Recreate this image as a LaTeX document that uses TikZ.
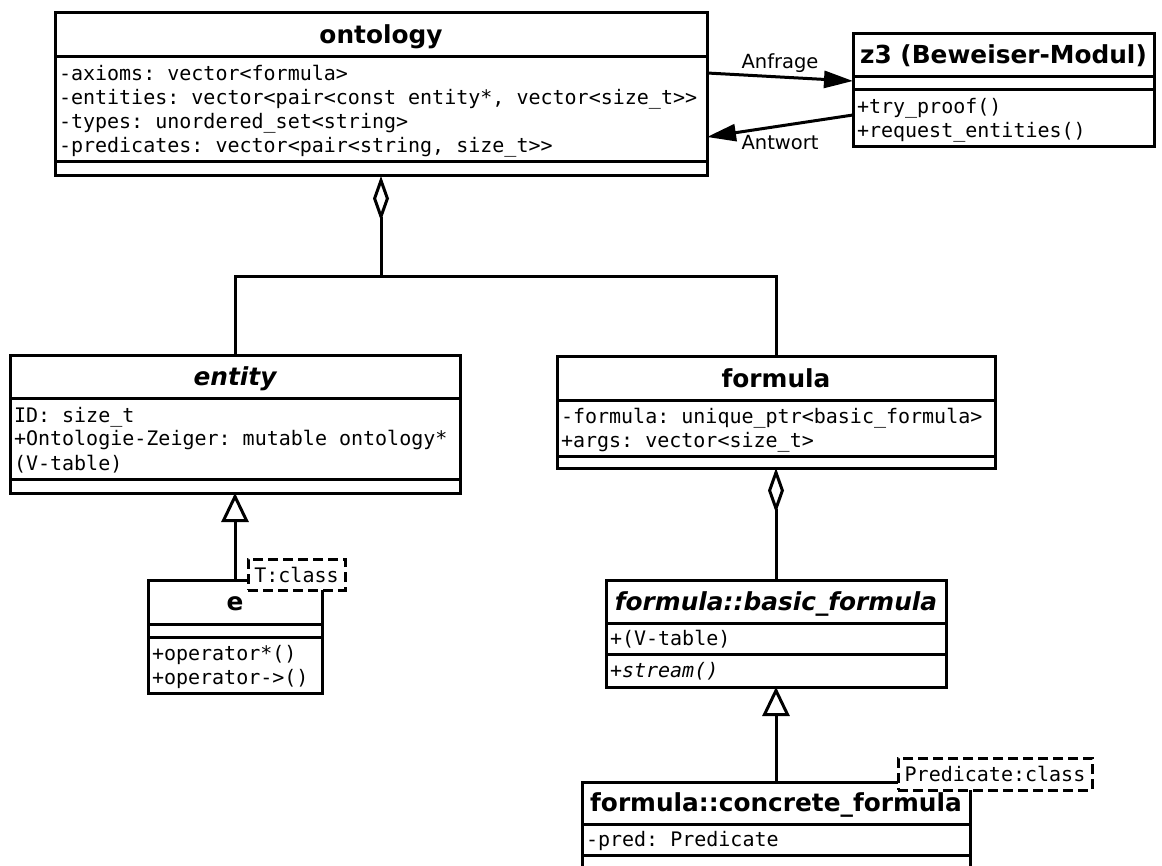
\documentclass[tikz,border=0pt]{standalone}
\usepackage{fontspec}
\setmainfont{DejaVu Sans}
\newfontfamily\umlmonof{DejaVu Sans Mono}
\usetikzlibrary{arrows.meta,calc}
\newcommand\umlmono{\umlmonof\fontsize{20pt}{24pt}\selectfont\frenchspacing}
\newcommand\umltitle{\fontsize{24.8pt}{30pt}\selectfont\bfseries}
\newcommand\umllabel{\fontsize{19.5pt}{24pt}\selectfont}
\newcommand\umlstrutA{\rule{0pt}{19pt}}
\newcommand\umlstrutB{\rule[-5pt]{0pt}{5pt}}
\newcommand\umlspacing{\spaceskip=12.04pt\relax\xspaceskip=12.04pt\relax}
\begin{document}
\begin{tikzpicture}[x=1pt,y=-1pt,
  lw/.style={line width=3pt},
  ttl/.style={draw, lw, fill=white, anchor=north west, outer sep=0pt, inner sep=0pt, font=\umltitle, text height=21pt, text depth=4pt},
  comp/.style={draw, lw, fill=white, anchor=north west, outer sep=0pt, inner xsep=4pt, inner ysep=0pt, align=flush left, font=\umlmono, execute at begin node={\umlspacing\umlstrutA}, execute at end node=\umlstrutB},
  ecomp/.style={draw, lw, fill=white, anchor=north west, outer sep=0pt, inner sep=0pt},
  tpl/.style={draw, lw, dash pattern=on 10pt off 5pt, fill=white, anchor=north west, outer sep=0pt, inner sep=0pt, font=\umlmono},
  msg/.style={lw, -{Triangle[length=29pt,width=17pt]}},
  agg/.style={lw, {Diamond[open,length=45pt,width=16pt]}-},
  gen/.style={lw, -{Triangle[open,length=29pt,width=27pt]}},
  lbl/.style={font=\umllabel, inner sep=3pt}
]
\useasboundingbox (0,0) rectangle (1162,866);
\clip (0,0) rectangle (1162,866);

% ontology
\node[ttl, minimum width=652pt, minimum height=44pt] (ontT) at (55,13) {ontology};
\node[comp, text width=644pt, minimum height=105pt] (ontA) at (ontT.south west) {-axioms: vector<formula>\\-entities: vector<pair<const entity*, vector<size\_t>{}>\\-types: unordered\_set<string>\\-predicates: vector<pair<string, size\_t>{}>};
\node[ecomp, minimum width=652pt, minimum height=14pt] (ontO) at (ontA.south west) {};

% z3
\node[ttl, minimum width=301pt, minimum height=43pt] (z3T) at (853,34) {z3 (Beweiser-Modul)};
\node[ecomp, minimum width=301pt, minimum height=13pt] (z3A) at (z3T.south west) {};
\node[comp, text width=293pt, minimum height=57pt] (z3M) at (z3A.south west) {+try\_proof()\\+request\_entities()};

% entity
\node[ttl, minimum width=450pt, minimum height=43pt] (entT) at (10,356) {\itshape entity};
\node[comp, text width=442pt, minimum height=80pt] (entA) at (entT.south west) {ID: size\_t\\+Ontologie-Zeiger: mutable ontology*\\(V-table)};
\node[ecomp, minimum width=450pt, minimum height=14pt] (entO) at (entA.south west) {};

% formula
\node[ttl, minimum width=438pt, minimum height=44pt] (formT) at (557,357) {formula};
\node[comp, text width=430pt, minimum height=55pt] (formA) at (formT.south west) {-formula: unique\_ptr<basic\_formula>\\+args: vector<size\_t>};
\node[ecomp, minimum width=438pt, minimum height=12pt] (formO) at (formA.south west) {};

% e
\node[ttl, minimum width=174pt, minimum height=44pt] (eTitle) at (148,580) {e};
\node[ecomp, minimum width=174pt, minimum height=13pt] (eA) at (eTitle.south west) {};
\node[comp, text width=166pt, minimum height=56pt] (eM) at (eA.south west) {+operator*()\\+operator->()};

% basic_formula
\node[ttl, minimum width=340pt, minimum height=43pt] (basT) at (606,580) {\itshape formula::basic\_formula};
\node[comp, text width=332pt, minimum height=31pt] (basA) at (basT.south west) {+(V-table)};
\node[comp, text width=332pt, minimum height=33pt] (basM) at (basA.south west) {\itshape +stream()};

% concrete_formula
\node[ttl, minimum width=388pt, minimum height=42pt] (conT) at (582,782) {formula::concrete\_formula};
\node[comp, text width=380pt, minimum height=31pt] (conA) at (conT.south west) {-pred: Predicate};
\node[ecomp, minimum width=388pt, minimum height=13pt] (conO) at (conA.south west) {};

% messages
\draw[msg] ($(ontA.north east)+(0,16)$) -- node[lbl, above]{Anfrage} ($(z3A.north west)+(0,4)$);
\draw[msg] ($(z3M.north west)+(0,25)$) -- node[lbl, below, yshift=-5pt]{Antwort} ($(ontA.north east)+(0,80)$);

% aggregation ontology
\coordinate (aggJ) at ($(ontO.south)+(0,101)$);
\draw[agg] (ontO.south) -- (aggJ) -| (entT.north);
\draw[lw] (aggJ) -| (formT.north);

% aggregation formula
\draw[agg] (formO.south) -- (basT.north);

% generalizations
\draw[gen] (eTitle.north) -- (entO.south);
\draw[gen] (conT.north) -- (basM.south);

% template parameters
\node[tpl, minimum width=97pt, minimum height=31pt] (eTpl) at (248,559) {T:class};
\node[tpl, minimum width=194pt, minimum height=32pt] (conTpl) at (898,758) {Predicate:class};
\end{tikzpicture}
\end{document}
